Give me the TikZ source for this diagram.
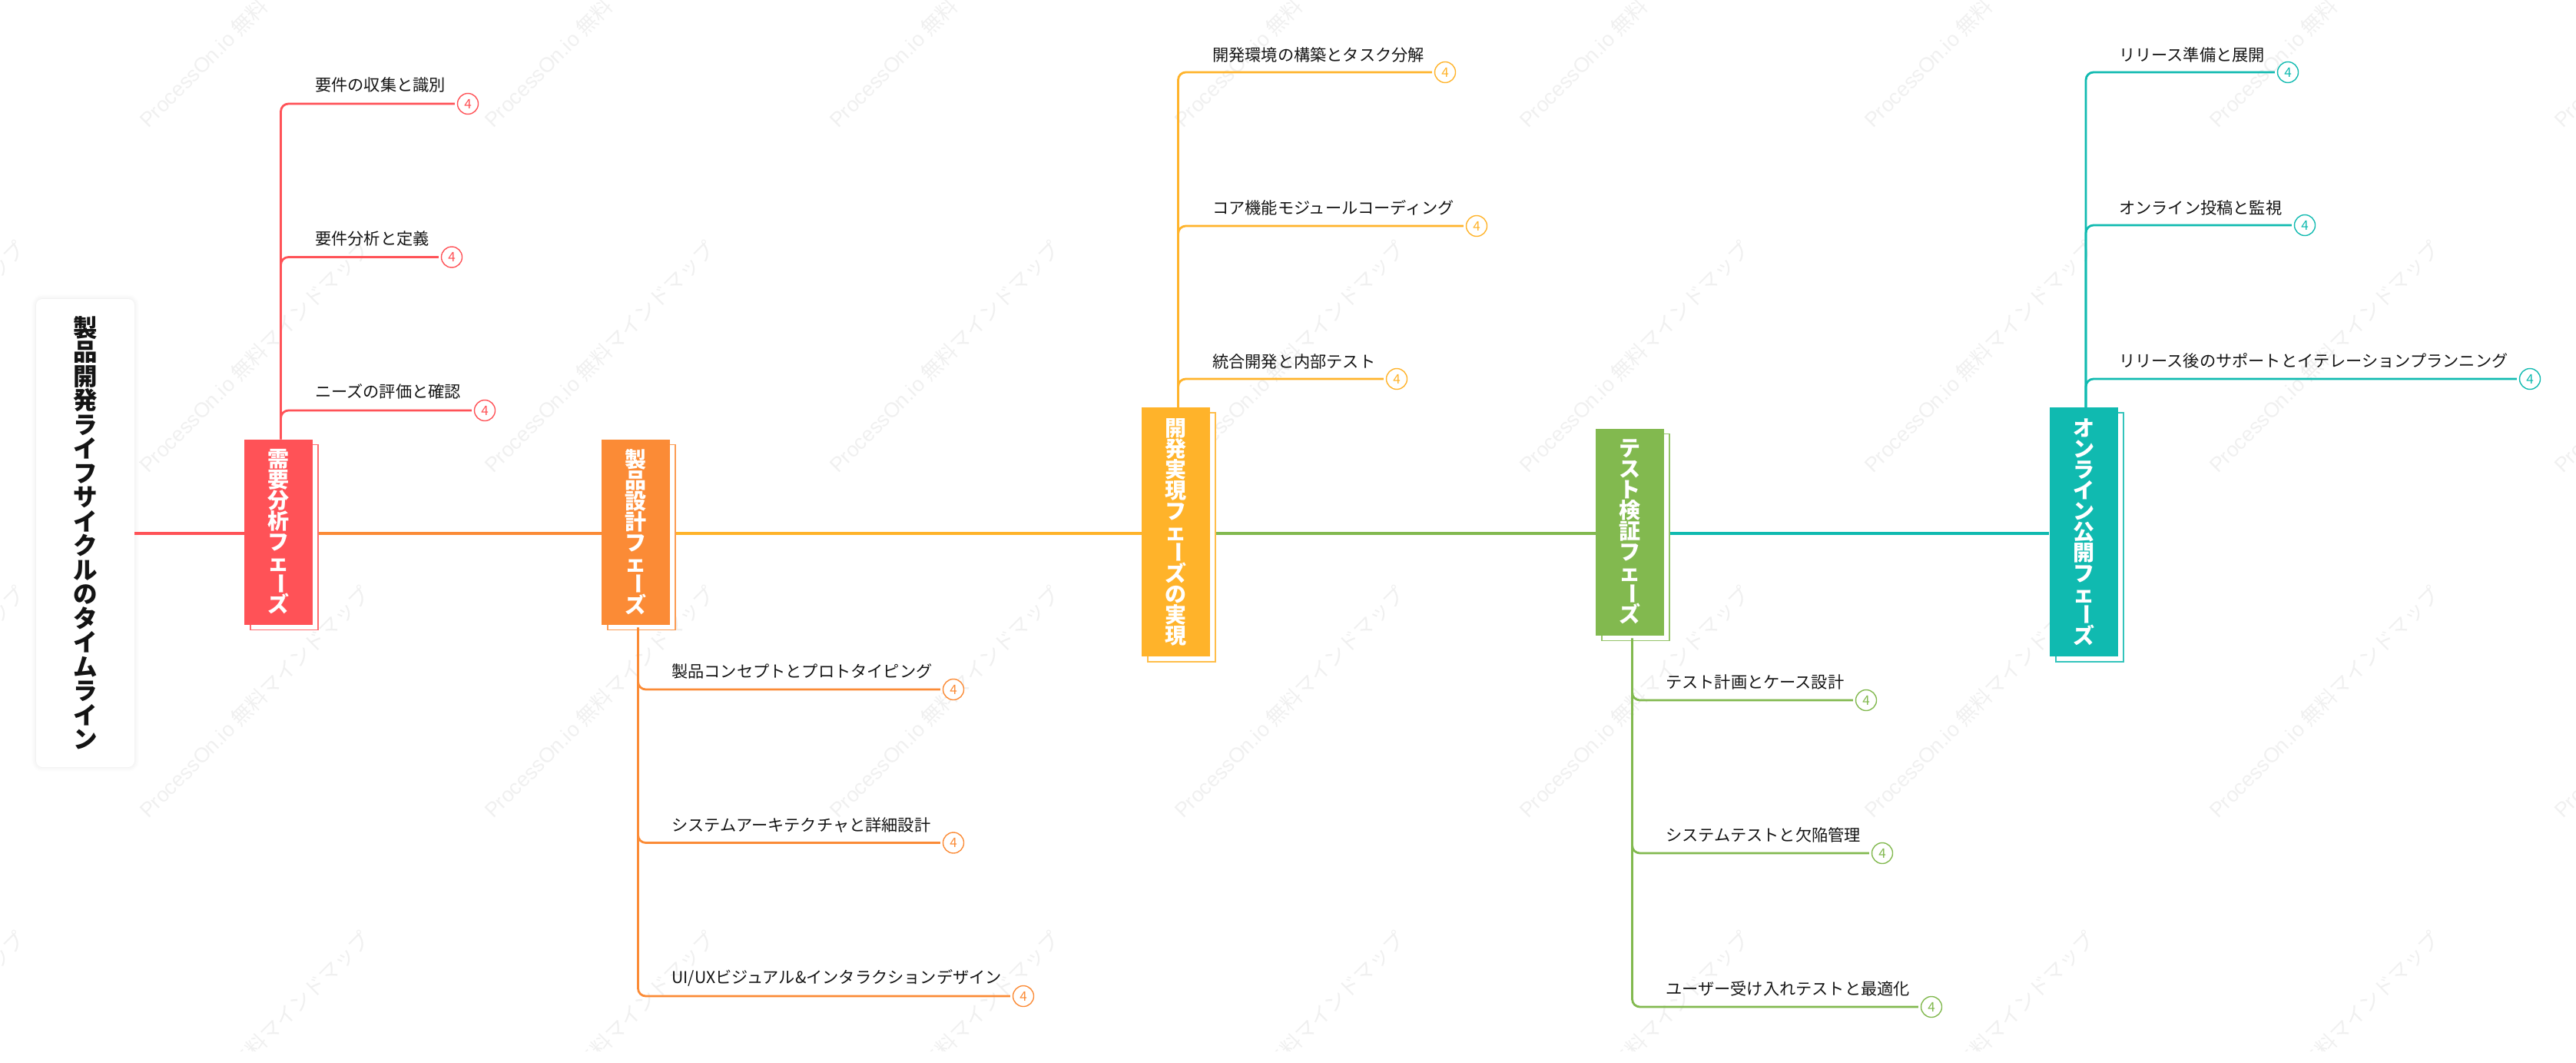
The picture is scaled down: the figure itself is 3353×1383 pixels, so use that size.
\documentclass[tikz,border=0pt]{standalone}
\usepackage{fontspec}
\usepackage{xcolor}
\usetikzlibrary{positioning,shadows.blur}
\setmainfont{Noto Sans CJK JP}
\newfontfamily\marklatin{Liberation Sans}
\definecolor{needred}{HTML}{FF5257}
\definecolor{designorange}{HTML}{FB8B36}
\definecolor{buildyellow}{HTML}{FFB32A}
\definecolor{testgreen}{HTML}{82B94F}
\definecolor{launchteal}{HTML}{10BAB0}
\definecolor{marktext}{HTML}{F0F0F0}
\newcommand{\longbar}{\smash{\raisebox{4pt}{\rotatebox[origin=c]{-90}{ー}}}}

\begin{document}
\begin{tikzpicture}[
    x=1pt, y=-1pt,
    stacked/.style={align=center, execute at begin node={\lineskiplimit=-50pt\relax}},
    rootcard/.style={stacked, rectangle, fill=white, rounded corners=8pt, inner sep=0, minimum width=128pt, minimum height=609pt,
        blur shadow={shadow xshift=0pt, shadow yshift=0pt, shadow blur radius=6pt, shadow opacity=10},
        text=black!92, font=\fontsize{31.5}{31.5}\bfseries},
    phase/.style={stacked, rectangle, fill=#1, inner sep=0, minimum width=89pt, text=white, font=\fontsize{28}{27}\bfseries},
    phaseback/.style={rectangle, draw=#1!85, fill=white, line width=1.3pt, inner sep=0, minimum width=88pt},
    mainline/.style={draw=#1, line width=3.6pt},
    branch/.style={draw=#1, line width=2.8pt, rounded corners=10pt, shorten >=3pt},
    leaftext/.style={anchor=west, inner sep=0, text=black!92, font=\fontsize{21.2}{21.2}\selectfont},
    leafcount/.style={circle, draw=#1, fill=white, text=#1, line width=1.4pt, inner sep=0, minimum size=27pt, font=\fontsize{17}{17}\selectfont},
    marktile/.style={anchor=base west, rotate=45, inner sep=0, text=marktext, font=\fontsize{27}{27}\selectfont}]
\useasboundingbox (0,0) rectangle (3353,1383);

\begin{scope}
\clip (0,0) rectangle (3353,1367);
\foreach \col in {-1,...,7}
  \foreach \row in {0,...,3}
    \node[marktile] (mark\col\row) at (193+449*\col, 168+449*\row) {{\marklatin ProcessOn.io} 無料マインドマップ};
\end{scope}

\node[rootcard] (root) at (111,693.5) {製\\品\\開\\発\\ラ\\イ\\フ\\サ\\イ\\ク\\ル\\の\\タ\\イ\\ム\\ラ\\イ\\ン};

\node[phaseback=needred, minimum height=241pt] (back1) at (370,699) {};
\node[phaseback=designorange, minimum height=241pt] (back2) at (835,699) {};
\node[phaseback=buildyellow, minimum height=324pt] (back3) at (1538,699) {};
\node[phaseback=testgreen, minimum height=269pt] (back4) at (2129,699) {};
\node[phaseback=launchteal, minimum height=324pt] (back5) at (2720,699) {};

\node[phase=needred, minimum height=241pt] (need) at (362.5,692) {需\\要\\分\\析\\フ\\ェ\\\longbar\\ズ};
\node[phase=designorange, minimum height=241pt] (design) at (827.5,692) {製\\品\\設\\計\\フ\\ェ\\\longbar\\ズ};
\node[phase=buildyellow, minimum height=324pt] (build) at (1530.5,692) {開\\発\\実\\現\\フ\\ェ\\\longbar\\ズ\\の\\実\\現};
\node[phase=testgreen, minimum height=269pt] (test) at (2121.5,692) {テ\\ス\\ト\\検\\証\\フ\\ェ\\\longbar\\ズ};
\node[phase=launchteal, minimum height=324pt] (launch) at (2712,692) {オ\\ン\\ラ\\イ\\ン\\公\\開\\フ\\ェ\\\longbar\\ズ};

\draw[mainline=needred] (root.east |- 0,694) -- (need.west |- 0,694);
\draw[mainline=designorange] (back1.east |- 0,694) -- (design.west |- 0,694);
\draw[mainline=buildyellow] (back2.east |- 0,694) -- (build.west |- 0,694);
\draw[mainline=testgreen] (back3.east |- 0,694) -- (test.west |- 0,694);
\draw[mainline=launchteal] (back4.east |- 0,694) -- (launch.west |- 0,694);

\node[leafcount=needred] (need1) at (609,135) {4};
\node[leafcount=needred] (need2) at (588,334.5) {4};
\node[leafcount=needred] (need3) at (631,534) {4};
\node[leaftext] (needtext1) at (410,110) {要件の収集と識別};
\node[leaftext] (needtext2) at (410,310.5) {要件分析と定義};
\node[leaftext] (needtext3) at (410,509) {ニーズの評価と確認};
\draw[branch=needred] ([xshift=3pt]need.north) |- (need1.west);
\draw[branch=needred] ([xshift=3pt]need.north) |- (need2.west);
\draw[branch=needred] ([xshift=3pt]need.north) |- (need3.west);

\node[leafcount=designorange] (design1) at (1241,897) {4};
\node[leafcount=designorange] (design2) at (1241,1096.5) {4};
\node[leafcount=designorange] (design3) at (1332,1296) {4};
\node[leaftext] (designtext1) at (874,873) {製品コンセプトとプロトタイピング};
\node[leaftext] (designtext2) at (874,1073.5) {システムアーキテクチャと詳細設計};
\node[leaftext] (designtext3) at (874,1272) {UI/UXビジュアル\&インタラクションデザイン};
\draw[branch=designorange] ([xshift=3pt,yshift=-4pt]design.south) |- (design1.west);
\draw[branch=designorange] ([xshift=3pt,yshift=-4pt]design.south) |- (design2.west);
\draw[branch=designorange] ([xshift=3pt,yshift=-4pt]design.south) |- (design3.west);

\node[leafcount=buildyellow] (build1) at (1881,94) {4};
\node[leafcount=buildyellow] (build2) at (1922,294) {4};
\node[leafcount=buildyellow] (build3) at (1818,493) {4};
\node[leaftext] (buildtext1) at (1578,71) {開発環境の構築とタスク分解};
\node[leaftext] (buildtext2) at (1578,270) {コア機能モジュールコーディング};
\node[leaftext] (buildtext3) at (1578,470) {統合開発と内部テスト};
\draw[branch=buildyellow] ([xshift=3pt]build.north) |- (build1.west);
\draw[branch=buildyellow] ([xshift=3pt]build.north) |- (build2.west);
\draw[branch=buildyellow] ([xshift=3pt]build.north) |- (build3.west);

\node[leafcount=testgreen] (test1) at (2429,911) {4};
\node[leafcount=testgreen] (test2) at (2450,1110) {4};
\node[leafcount=testgreen] (test3) at (2514,1310) {4};
\node[leaftext] (testtext1) at (2168,887) {テスト計画とケース設計};
\node[leaftext] (testtext2) at (2168,1086) {システムテストと欠陥管理};
\node[leaftext] (testtext3) at (2168,1286) {ユーザー受け入れテストと最適化};
\draw[branch=testgreen] ([xshift=3pt,yshift=-4pt]test.south) |- (test1.west);
\draw[branch=testgreen] ([xshift=3pt,yshift=-4pt]test.south) |- (test2.west);
\draw[branch=testgreen] ([xshift=3pt,yshift=-4pt]test.south) |- (test3.west);

\node[leafcount=launchteal] (launch1) at (2978,94) {4};
\node[leafcount=launchteal] (launch2) at (3000,293) {4};
\node[leafcount=launchteal] (launch3) at (3293,493) {4};
\node[leaftext] (launchtext1) at (2758,71) {リリース準備と展開};
\node[leaftext] (launchtext2) at (2758,270) {オンライン投稿と監視};
\node[leaftext] (launchtext3) at (2758,469) {リリース後のサポートとイテレーションプランニング};
\draw[branch=launchteal] ([xshift=3pt]launch.north) |- (launch1.west);
\draw[branch=launchteal] ([xshift=3pt]launch.north) |- (launch2.west);
\draw[branch=launchteal] ([xshift=3pt]launch.north) |- (launch3.west);
\end{tikzpicture}
\end{document}
